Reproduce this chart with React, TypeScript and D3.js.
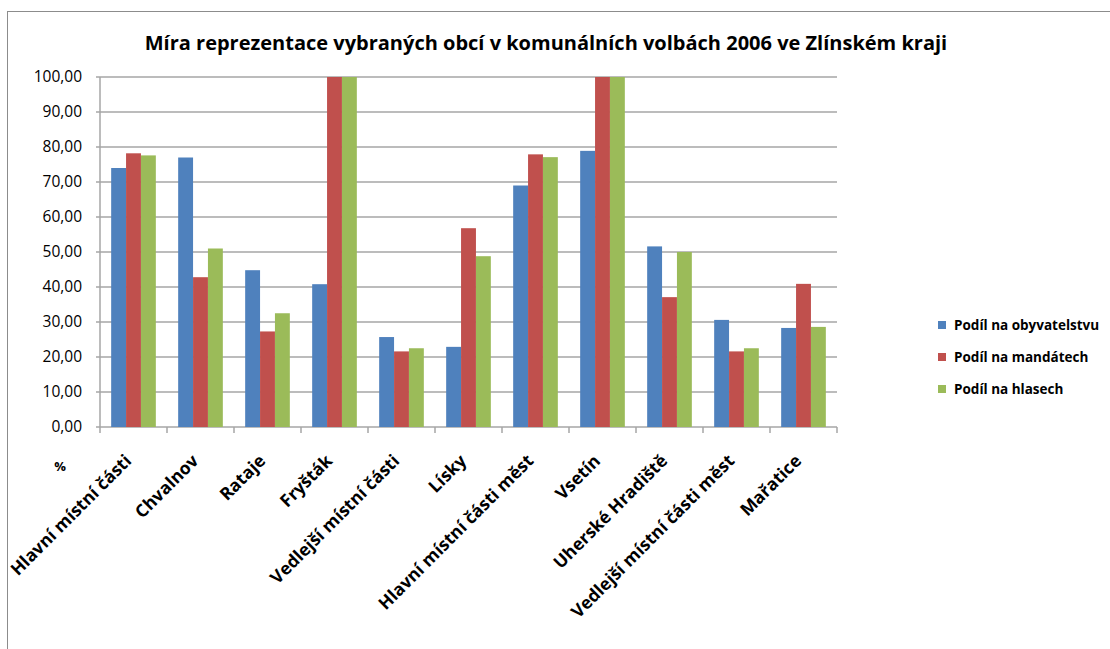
import React from "react";
import * as d3 from "d3";

const title = "Míra reprezentace vybraných obcí v komunálních volbách 2006 ve Zlínském kraji";

const categories = [
  "Hlavní místní části",
  "Chvalnov",
  "Rataje",
  "Fryšták",
  "Vedlejší místní části",
  "Lísky",
  "Hlavní místní části měst",
  "Vsetín",
  "Uherské Hradiště",
  "Vedlejší místní části měst",
  "Mařatice",
];

const seriesNames = ["Podíl na obyvatelstvu", "Podíl na mandátech", "Podíl na hlasech"];
const obyvatelstvo = [74.0, 77.0, 44.8, 40.8, 25.7, 22.9, 69.0, 78.9, 51.6, 30.6, 28.3];
const mandaty = [78.2, 42.8, 27.3, 100, 21.6, 56.8, 77.9, 100, 37.1, 21.6, 40.9];
const hlasy = [77.6, 51.0, 32.5, 100, 22.5, 48.8, 77.1, 100, 50.0, 22.5, 28.6];
const colors = ["#4F81BD", "#C0504D", "#9BBB59"];
const yTicks = [0, 10, 20, 30, 40, 50, 60, 70, 80, 90, 100];

const W = 1110;
const H = 649;
const plot = { left: 100, right: 837, top: 77, bottom: 427 };
const font = "'Open Sans', Lato, sans-serif";

export default function App() {
  const allSeries = [obyvatelstvo, mandaty, hlasy];
  const x = d3.scaleBand<string>().domain(categories).range([plot.left, plot.right]).paddingInner(0).paddingOuter(0);
  const y = d3.scaleLinear().domain([0, 100]).range([plot.bottom, plot.top]);
  const bw = x.bandwidth() / 4.5;
  const inner = d3.scaleBand<number>().domain([0, 1, 2]).range([0, bw * 3]);
  const fmt = (v: number) => d3.format(".2f")(v).replace(".", ",");

  return (
    <div style={{ position: "fixed", left: 0, top: 0 }}>
      <svg width={W} height={H} style={{ display: "block", background: "#fff" }}>
        <rect x={7.5} y={11.5} width={W} height={H + 20} fill="#fff" stroke="#8c8c8c" strokeWidth={1} />
        <text x={546} y={50} textAnchor="middle" fontFamily={font} fontWeight="bold" fontSize={20} fill="#000">
          {title}
        </text>

        {yTicks.map((t) => (
          <g key={t}>
            <line x1={plot.left - 4} x2={plot.right} y1={y(t)} y2={y(t)} stroke="#a6a6a6" strokeWidth={1.5} />
            <text x={82} y={y(t)} dy="0.35em" textAnchor="end" fontFamily={font} fontSize={15.5} fill="#000">
              {fmt(t)}
            </text>
          </g>
        ))}
        <line x1={plot.left} x2={plot.left} y1={plot.top} y2={plot.bottom} stroke="#a6a6a6" strokeWidth={1.5} />

        {categories.map((c, i) => (
          <g key={c}>
            {allSeries.map((s, k) => (
              <rect
                key={k}
                x={(x(c) as number) + bw * 0.75 + (inner(k) as number)}
                y={y(s[i])}
                width={inner.bandwidth()}
                height={y(0) - y(s[i])}
                fill={colors[k]}
              />
            ))}
          </g>
        ))}

        {d3.range(categories.length + 1).map((i) => {
          const xx = plot.left + i * x.step();
          return <line key={i} x1={xx} x2={xx} y1={plot.bottom} y2={plot.bottom + 6} stroke="#a6a6a6" strokeWidth={1.5} />;
        })}

        {categories.map((c) => {
          const cx = (x(c) as number) + x.bandwidth() / 2;
          return (
            <text
              key={c}
              transform={`translate(${cx - 1},${plot.bottom + 35}) rotate(-45)`}
              textAnchor="end"
              fontFamily={font}
              fontWeight="bold"
              fontSize={17.5}
              fill="#000"
            >
              {c}
            </text>
          );
        })}

        <text x={60} y={471} textAnchor="middle" fontFamily={font} fontWeight="bold" fontSize={13} fill="#000">
          %
        </text>

        {seriesNames.map((n, k) => (
          <g key={n} transform={`translate(938,${325 + k * 32})`}>
            <rect x={0} y={-4} width={8} height={8} fill={colors[k]} />
            <text x={16} y={0} dy="0.35em" fontFamily={font} fontWeight="bold" fontSize={13.5} fill="#000">
              {n}
            </text>
          </g>
        ))}
      </svg>
    </div>
  );
}
